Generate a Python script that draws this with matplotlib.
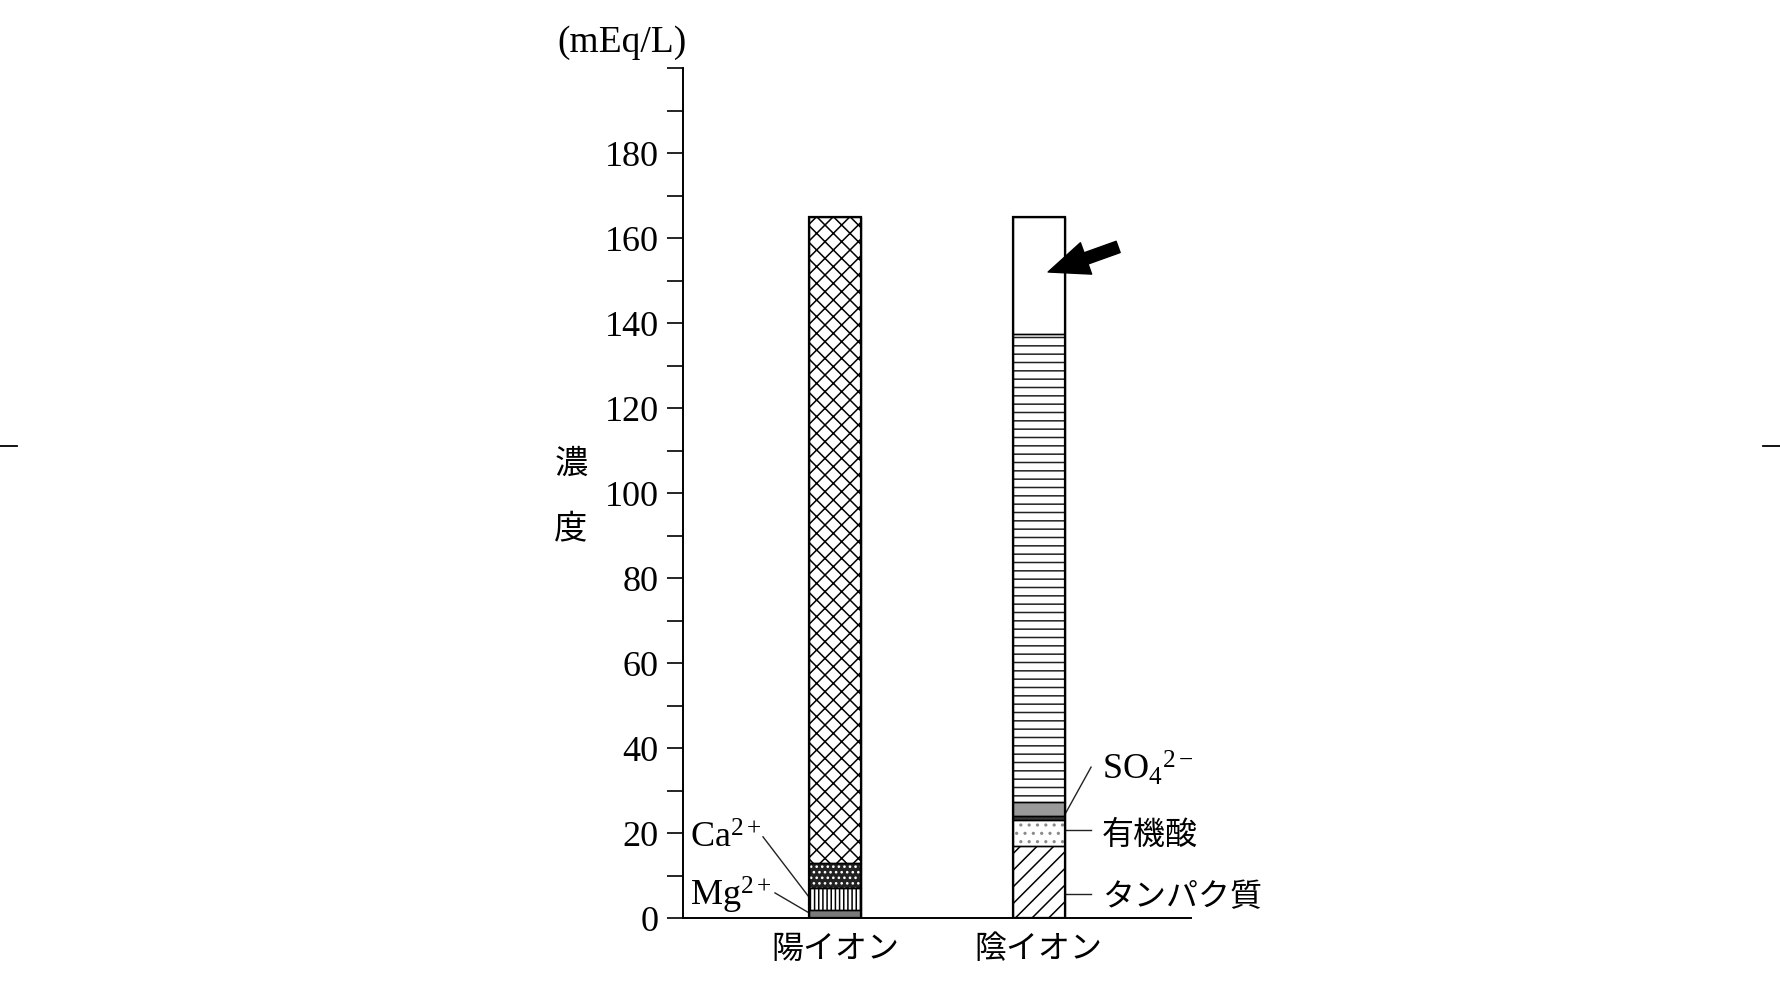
import matplotlib
matplotlib.use("Agg")
import matplotlib.pyplot as plt
from matplotlib.lines import Line2D

plt.rcParams['font.family'] = ['Liberation Serif', 'Noto Sans CJK JP', 'DejaVu Sans']
plt.rcParams['mathtext.fontset'] = 'custom'
plt.rcParams['mathtext.rm'] = 'Liberation Serif'
plt.rcParams['mathtext.it'] = 'Liberation Serif:italic'
plt.rcParams['hatch.linewidth'] = 1.1

# ---------------- data ----------------
categories = ['陽イオン', '陰イオン']
cation_names = ['Mg2+', 'Ca2+', 'K+', 'Na+']
cation_values = [2, 5, 6, 152]
anion_names = ['タンパク質', '有機酸', 'SO4 2-', 'HPO4 2-', 'Cl-', 'HCO3-']
anion_values = [17, 6, 1, 3.2, 110.3, 27.5]
ytick_values = list(range(0, 201, 10))
ytick_labels = [str(v) if (v % 20 == 0 and v <= 180) else '' for v in ytick_values]
y_unit = '(mEq/L)'
y_title = ['濃', '度']

# ---------------- styles ----------------
cation_styles = [
    dict(face='#7a7a7a', hatch=None, hc='#7a7a7a'),
    dict(face='white', hatch='||||', hc='black'),
    dict(face='#222222', hatch='...', hc='white'),
    dict(face='white', hatch='xx', hc='black'),
]
anion_styles = [
    dict(face='white', hatch='//', hc='black'),
    dict(face='white', hatch='..', hc='#8a8a8a'),
    dict(face='#3a3a3a', hatch=None, hc='#3a3a3a'),
    dict(face='#9a9a9a', hatch=None, hc='#9a9a9a'),
    dict(face='white', hatch='--', hc='#222222'),
    dict(face='white', hatch=None, hc='white'),
]

fig = plt.figure(figsize=(17.8, 9.88), dpi=100)
ax = fig.add_axes([683 / 1780, 1 - 918 / 988, (1191 - 683) / 1780, (918 - 68) / 988])

xpos = [0, 1]
width = 0.255
jp = ['Noto Sans CJK JP', 'DejaVu Sans']


def draw_stack(x, values, styles):
    bottom = 0
    for v, st in zip(values, styles):
        ax.bar(x, v, bottom=bottom, width=width, color=st['face'],
               edgecolor=st['hc'], hatch=st['hatch'], linewidth=0, zorder=2)
        ax.bar(x, v, bottom=bottom, width=width, fill=False,
               edgecolor='black', linewidth=1.0, zorder=3)
        bottom += v
    ax.bar(x, bottom, width=width, fill=False, edgecolor='black',
           linewidth=1.6, zorder=4)


draw_stack(xpos[0], cation_values, cation_styles)
draw_stack(xpos[1], anion_values, anion_styles)

ax.set_xlim(-0.747, 1.749)
ax.set_ylim(0, 200)
for s in ['top', 'right']:
    ax.spines[s].set_visible(False)
for s in ['left', 'bottom']:
    ax.spines[s].set_linewidth(1.4)

ax.set_yticks(ytick_values)
ax.set_yticklabels(ytick_labels, fontsize=26)
ax.tick_params(axis='y', direction='out', length=11.5, width=1.2, pad=6)
ax.set_xticks(xpos)
ax.set_xticklabels(categories, fontsize=23, family=jp)
ax.tick_params(axis='x', length=0, pad=11)

# unit and title
fig.text(687 / 1780, 1 - 43 / 988, y_unit, ha='right', va='center', fontsize=27)
fig.text(571 / 1780, 1 - 464 / 988, y_title[0], ha='center', va='center',
         fontsize=24, family=jp)
fig.text(571 / 1780, 1 - 529 / 988, y_title[1], ha='center', va='center',
         fontsize=24, family=jp)

# cation labels with leader lines
lk = dict(color='#222222', lw=1.0)
ax.text(-0.712, 16.5, r'Ca$^{2+}$', fontsize=26, ha='left', va='baseline')
ax.plot([-0.354, -width / 2], [19.1, 4.9], **lk)
ax.text(-0.712, 2.8, r'Mg$^{2+}$', fontsize=26, ha='left', va='baseline',
        clip_on=False)
ax.plot([-0.295, -width / 2], [5.9, 1.2], **lk)

# anion labels
xr = 1 + width / 2
ax.text(1.312, 32.5, r'SO$_4{}^{2-}$', fontsize=26, ha='left', va='baseline')
ax.plot([1.258, xr], [35.5, 24.2], **lk)
ax.text(1.312, 19.6, anion_names[1], fontsize=23, ha='left', va='center', family=jp)
ax.plot([xr, 1.258], [20.7, 20.7], **lk)
ax.text(1.312, 5.0, anion_names[0], fontsize=23, ha='left', va='center', family=jp)
ax.plot([xr, 1.258], [5.6, 5.6], **lk)

# arrow pointing to the white segment
ax.annotate('', xy=(1.047, 152), xytext=(1.391, 157.9),
            arrowprops=dict(arrowstyle='simple,head_length=1.45,head_width=1.2,tail_width=0.43',
                            fc='black', ec='black', mutation_scale=20,
                            shrinkA=0, shrinkB=0), zorder=6)

# crop marks at the page edges
fig.add_artist(Line2D([0, 17 / 1780], [1 - 446 / 988] * 2, color='black', lw=1.3))
fig.add_artist(Line2D([1763 / 1780, 1], [1 - 446 / 988] * 2, color='black', lw=1.3))

fig.savefig('out.png', dpi=100)
